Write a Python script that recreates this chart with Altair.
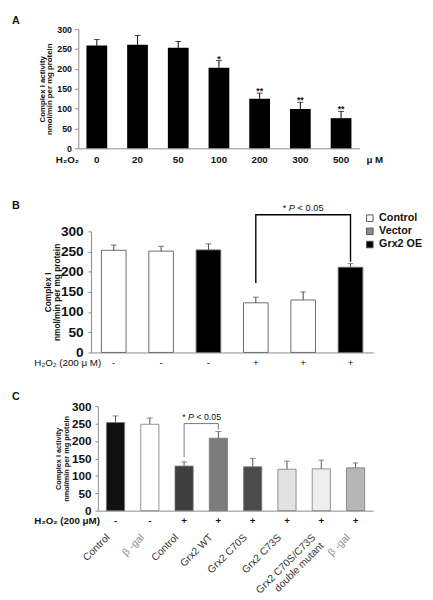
import json
import altair as alt
import pandas as pd

FONT = "Liberation Sans"
INK = "#111111"
GREY = "#8a8a8a"

# ---------------- Panel A : H2O2 dose response ----------------
a_conc = ["0", "20", "50", "100", "200", "300", "500"]
a_mean = [259, 261, 253, 203, 125, 99, 76]
a_err = [15, 23, 16, 18, 14, 17, 17]
a_sig = ["", "", "", "*", "**", "**", "**"]
a_ytitle = ["Complex I activity", "nmol/min per mg protein"]
a_row_label = "H\u2082O\u2082"
a_unit = "\u03bc M"

# ---------------- Panel B : Grx2 over-expression ----------------
b_bar = ["1", "2", "3", "4", "5", "6"]
b_mean = [253, 251, 254, 123, 130, 211]
b_err = [13, 12, 15, 14, 20, 9]
b_h2o2 = ["-", "-", "-", "+", "+", "+"]
b_fill = ["#ffffff", "#ffffff", "#000000", "#ffffff", "#ffffff", "#000000"]
b_groups = ["Control", "Vector", "Grx2 OE"]
b_group_colors = ["#ffffff", "#8c8c8c", "#000000"]
b_bracket_bar = ["4", "4", "6", "6"]
b_bracket_val = [172, 341, 341, 225]
b_ytitle = ["Complex I", "nmol/min per mg protein"]
b_row_label = "H\u2082O\u2082 (200 \u03bc M)"

# ---------------- Panel C : Grx2 mutants ----------------
c_bar = ["1", "2", "3", "4", "5", "6", "7", "8"]
c_names = ["Control", "\u03b2 -gal", "Control", "Grx2 WT", "Grx2 C70S", "Grx2 C73S",
           ["Grx2 C70S/C73S", "double mutant"], "\u03b2 -gal"]
c_mean = [253, 248, 128, 208, 126, 119, 120, 123]
c_err = [19, 18, 12, 19, 24, 23, 25, 14]
c_h2o2 = ["-", "-", "+", "+", "+", "+", "+", "+"]
c_fill = ["#111111", "#ffffff", "#3e3e3e", "#7c7c7c", "#4b4b4b", "#e2e2e2", "#ededed", "#b6b6b6"]
c_bracket_bar = ["3", "3", "4", "4"]
c_bracket_val = [154, 250, 250, 233]
c_ytitle = ["Complex I activity", "nmol/min per mg protein"]
c_row_label = "H\u2082O\u2082 (200 \u03bcM)"

p_parts = ["*", "P", "< 0.05"]
y_ticks = [0, 50, 100, 150, 200, 250, 300]


def note(text, x, y, size, weight="normal", align="left", color=INK, style="normal"):
    return alt.Chart(pd.DataFrame({"t": [text]})).mark_text(
        align=align, baseline="middle", fontSize=size, fontWeight=weight,
        color=color, font=FONT, fontStyle=style
    ).encode(x=alt.value(x), y=alt.value(y), text="t:N")


def y_axis(title, tsize, tline, tx, ty, lsize, offset, tick, pad):
    return alt.Axis(values=y_ticks, title=title, titleFont=FONT, titleFontSize=tsize,
                    titleFontWeight="bold", titleColor=INK, titleLineHeight=tline,
                    titleX=tx, titleY=ty, titleAngle=270, titleBaseline="bottom",
                    titleAlign="center",
                    labelFont=FONT, labelFontSize=lsize, labelFontWeight="bold",
                    labelColor=INK, tickSize=tick, tickColor=GREY, domainColor=GREY,
                    labelPadding=pad, grid=False, offset=offset)


def p_label(bar, xs, xa, y, size, dx0):
    # "* P < 0.05" with an italic P, centred at band `bar` shifted by dx0
    total = 4.42 * size
    start = dx0 - total / 2
    shifts = [start, start + 0.667 * size, start + 1.612 * size]
    styles = ["normal", "italic", "normal"]
    layers = []
    for t, s, st in zip(p_parts, shifts, styles):
        layers.append(
            alt.Chart(pd.DataFrame({"bar": [bar], "t": [t]})).mark_text(
                align="left", baseline="middle", fontSize=size, font=FONT,
                fontStyle=st, color=INK, dx=s
            ).encode(x=alt.X("bar:N", scale=xs, axis=xa), y=alt.value(y), text="t:N")
        )
    return layers


# ======================= Panel A =======================
A_W, A_H = 288, 122
dfA = pd.DataFrame({"conc": a_conc, "mean": a_mean, "err": a_err, "sig": a_sig})
dfA["top"] = dfA["mean"] + dfA["err"]
xA_s = alt.Scale(domain=a_conc, paddingInner=0.49, paddingOuter=0.2)
xA_a = alt.Axis(title=None, labelAngle=0, ticks=False, domainColor=GREY, labelFont=FONT,
                labelFontSize=10, labelFontWeight="bold", labelColor=INK, labelPadding=7)
yA_s = alt.Scale(domain=[0, 300], nice=False)
yA_a = y_axis(a_ytitle, 8, 7.5, -32.5, A_H / 2, 9, 0, 4, 3)


def xa():
    return alt.X("conc:N", scale=xA_s, axis=xA_a)


def ya(f):
    return alt.Y(f"{f}:Q", scale=yA_s, axis=yA_a)


baseA = alt.Chart(dfA)
A = alt.layer(
    baseA.mark_bar(color="black").encode(x=xa(), y=ya("mean")),
    baseA.mark_rule(color="black", strokeWidth=1).encode(x=xa(), y=ya("mean"), y2="top:Q"),
    baseA.mark_tick(color="black", size=6, thickness=1).encode(x=xa(), y=ya("top")),
    baseA.mark_text(fontSize=9, fontWeight="bold", baseline="alphabetic", dy=1,
                    color=INK, font=FONT).encode(x=xa(), y=ya("top"), text="sig:N"),
    note(a_row_label, -23, A_H + 12, 10, "bold"),
    note(a_unit, 295, A_H + 12, 10, "bold"),
    note("A", -68, -8, 11, "bold"),
).properties(width=A_W, height=A_H)

# ======================= Panel B =======================
B_W, B_H = 302, 124
dfB = pd.DataFrame({"bar": b_bar, "mean": b_mean, "err": b_err, "h2o2": b_h2o2, "fill": b_fill})
dfB["top"] = dfB["mean"] + dfB["err"]
xB_s = alt.Scale(domain=b_bar, range=[13, 302], paddingInner=0.48, paddingOuter=0.22)
xB_a = alt.Axis(title=None, labels=False, ticks=False, domainColor=GREY)
yB_s = alt.Scale(domain=[0, 300], nice=False)
yB_a = y_axis(b_ytitle, 8.5, 9, -39, B_H / 2, 14, -13, 3, 5)


def xb():
    return alt.X("bar:N", scale=xB_s, axis=xB_a)


def yb(f):
    return alt.Y(f"{f}:Q", scale=yB_s, axis=yB_a)


baseB = alt.Chart(dfB)
dfBr = pd.DataFrame({"bar": b_bracket_bar, "val": b_bracket_val, "ord": [0, 1, 2, 3]})
legendB = alt.Chart(pd.DataFrame({"group": b_groups})).mark_square(size=0, opacity=1).encode(
    color=alt.Color("group:N", scale=alt.Scale(domain=b_groups, range=b_group_colors),
                    legend=alt.Legend(orient="none", legendX=293, legendY=-19, title=None,
                                      symbolType="square", symbolSize=45,
                                      symbolStrokeColor="#555555", symbolStrokeWidth=1,
                                      labelFont=FONT, labelFontSize=11, labelFontWeight="bold",
                                      labelColor=INK, labelOffset=4, rowPadding=1.5, padding=0)),
    x=alt.value(0), y=alt.value(0))

B = alt.layer(
    baseB.mark_bar(stroke="#6a6a6a", strokeWidth=1).encode(
        x=xb(), y=yb("mean"), fill=alt.Fill("fill:N", scale=None)),
    baseB.mark_rule(color="#444444", strokeWidth=1).encode(x=xb(), y=yb("mean"), y2="top:Q"),
    baseB.mark_tick(color="#444444", size=6, thickness=1).encode(x=xb(), y=yb("top")),
    alt.Chart(dfBr).mark_line(color="black", strokeWidth=1.4).encode(
        x=xb(), y=yb("val"), order="ord:O"),
    *p_label("5", xB_s, xB_a, -24, 9.5, 0),
    baseB.mark_text(fontSize=10, color=INK, font=FONT).encode(
        x=xb(), y=alt.value(B_H + 11), text="h2o2:N"),
    note(b_row_label, -45, B_H + 11, 10),
    note("B", -68, -26, 11, "bold"),
    legendB,
).properties(width=B_W, height=B_H)

# ======================= Panel C =======================
C_W, C_H = 302, 107
dfC = pd.DataFrame({"bar": c_bar, "mean": c_mean, "err": c_err, "h2o2": c_h2o2, "fill": c_fill})
dfC["top"] = dfC["mean"] + dfC["err"]
label_expr = json.dumps(c_names, ensure_ascii=False) + "[toNumber(datum.value) - 1]"
faint = [c_bar[i] for i, n in enumerate(c_names) if isinstance(n, str) and "\u03b2" in n]
faint_test = " || ".join(f"datum.value == '{v}'" for v in faint)
xC_s = alt.Scale(domain=c_bar, range=[20, 302], paddingInner=0.47, paddingOuter=0.25)
xC_a = alt.Axis(title=None, ticks=False, domainColor=GREY, labelExpr=label_expr,
                labelAngle=-45, labelAlign="right", labelBaseline="top", labelPadding=22,
                labelOffset=-11, labelFont=FONT, labelFontSize=10.5, labelOverlap=False,
                labelLimit=200, labelLineHeight=12,
                labelColor={"condition": {"test": faint_test, "value": "#8c8c8c"},
                            "value": "#333333"})
yC_s = alt.Scale(domain=[0, 300], nice=False)
yC_a = y_axis(c_ytitle, 7.5, 8, -36.5, C_H / 2, 12, -20, 3, 4)


def xc():
    return alt.X("bar:N", scale=xC_s, axis=xC_a)


def yc(f):
    return alt.Y(f"{f}:Q", scale=yC_s, axis=yC_a)


baseC = alt.Chart(dfC)
dfCr = pd.DataFrame({"bar": c_bracket_bar, "val": c_bracket_val, "ord": [0, 1, 2, 3]})
C = alt.layer(
    baseC.mark_bar(stroke="#777777", strokeWidth=0.8).encode(
        x=xc(), y=yc("mean"), fill=alt.Fill("fill:N", scale=None)),
    baseC.mark_rule(color="#555555", strokeWidth=1).encode(x=xc(), y=yc("mean"), y2="top:Q"),
    baseC.mark_tick(color="#555555", size=6, thickness=1).encode(x=xc(), y=yc("top")),
    alt.Chart(dfCr).mark_line(color="#777777", strokeWidth=1).encode(
        x=xc(), y=yc("val"), order="ord:O"),
    *p_label("3", xC_s, xC_a, 11, 9, 18),
    baseC.mark_text(fontSize=10, fontWeight="bold", color=INK, font=FONT).encode(
        x=xc(), y=alt.value(C_H + 11), text="h2o2:N"),
    note(c_row_label, -45, C_H + 11, 10, "bold"),
    note("C", -68, -9, 11, "bold"),
).properties(width=C_W, height=C_H)

top = alt.vconcat(A, B, spacing=36).resolve_scale(color="independent").resolve_legend(
    color="independent")
chart = alt.vconcat(top, C, spacing=24).resolve_scale(color="independent").resolve_legend(
    color="independent").properties(
    padding={"left": 4, "top": 0, "right": 2, "bottom": 40}
).configure_view(stroke=None).configure_axis(labelFont=FONT, titleFont=FONT)

chart.save("out.html", embed_options={"renderer": "svg", "actions": False})
